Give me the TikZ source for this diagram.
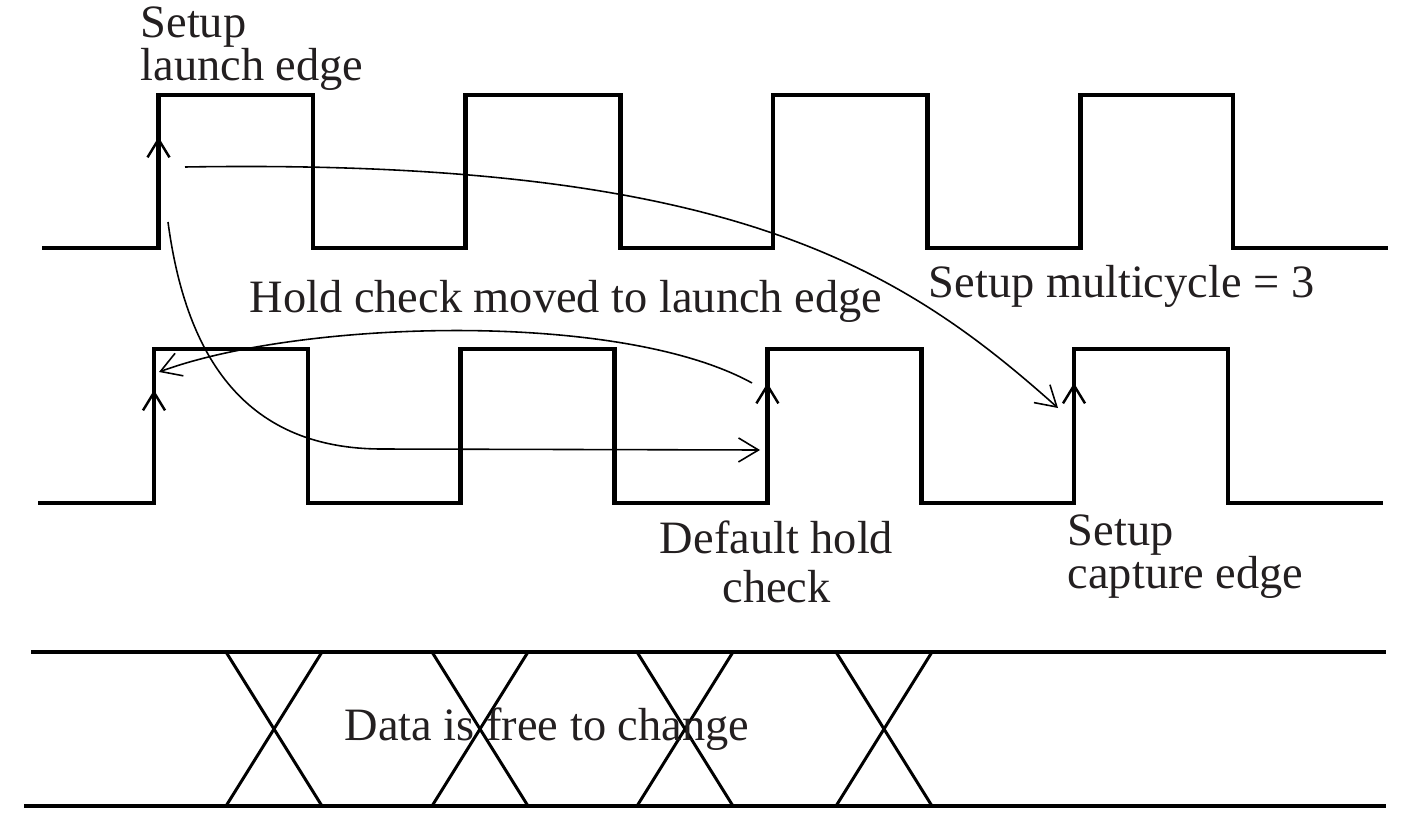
\documentclass[tikz,border=0pt]{standalone}
\usepackage{fontspec}
\setmainfont{Liberation Serif}
\usetikzlibrary{arrows.meta}
\definecolor{LabelInk}{HTML}{231F20}
\newcommand{\lblfont}{\fontsize{13.2pt}{12.2pt}\selectfont}
\tikzset{>={Straight Barb[length=2mm,width=2.4mm]},every node/.style={font=\lblfont},
 clk/.style={line width=1.4pt},xing/.style={line width=.85pt},arr/.style={line width=.45pt,->},
 rise/.style={line width=.7pt,-{Straight Barb[length=1.8mm,width=2.2mm]}},
 lbl/.style={inner sep=0pt,text=LabelInk}}

\begin{document}
\begin{tikzpicture}
\useasboundingbox (0,0) rectangle (14.01,8.22);
\draw[clk] (0.42,5.74) -| (1.585,7.27) -| (3.13,5.74) -| (4.658,7.27) -| (6.203,5.74)
 -| (7.73,7.27) -| (9.275,5.74) -| (10.804,7.27) -| (12.33,5.74) -- (13.88,5.74);
\draw[clk] (0.38,3.19) -| (1.54,4.73) -| (3.08,3.19) -| (4.607,4.73) -| (6.147,3.19)
 -| (7.674,4.73) -| (9.214,3.19) -| (10.74,4.73) -| (12.28,3.19) -- (13.83,3.19);
\draw[clk] (0.31,1.70) -- (13.86,1.70);
\draw[clk] (0.24,0.16) -- (13.86,0.16);
\foreach \x in {2.26,4.32,6.37,8.36}
 \draw[xing] (\x,1.70) -- ++(0.96,-1.54) (\x,0.16) -- ++(0.96,1.54);
\coordinate (m1) at (1.585,6.85);\coordinate (m2) at (1.54,4.32);
\coordinate (m3) at (7.674,4.39);\coordinate (m4) at (10.74,4.39);
\foreach \p in {m1,m2,m3,m4}\draw[rise] ([yshift=-3mm]\p)--(\p);
\coordinate (sl) at (1.85,6.55);\coordinate (sc) at (10.58,4.14);
\coordinate (hl) at (1.68,6.00);\coordinate (hb) at (3.82,3.73);\coordinate (hd) at (7.60,3.72);
\coordinate (hm) at (7.52,4.39);\coordinate (hn) at (1.59,4.50);
\draw[arr] (sl) .. controls (7.3,6.64) and (9.0,5.55) .. (sc);
\draw[arr] (hl) .. controls (1.85,4.72) and (2.40,3.73) .. (hb) -- (hd);
\draw[arr] (hm) .. controls (6.20,5.12) and (3.00,5.02) .. (hn);
\node[lbl,align=left,anchor=base west] (launch) at (1.40,7.42) {Setup\\launch edge};
\node[lbl,anchor=base west] (holdmv) at (2.49,5.10) {Hold check moved to launch edge};
\node[lbl,anchor=base west] (multi) at (9.28,5.25) {Setup multicycle = 3};
\node[lbl,align=center,anchor=base] (dflt) at (7.765,2.20) {Default hold\\[1.7pt]check};
\node[lbl,align=left,anchor=base west] (capt) at (10.67,2.34) {Setup\\capture edge};
\node[lbl,anchor=base west] (free) at (3.44,0.82) {Data is free to change};
\end{tikzpicture}
\end{document}
